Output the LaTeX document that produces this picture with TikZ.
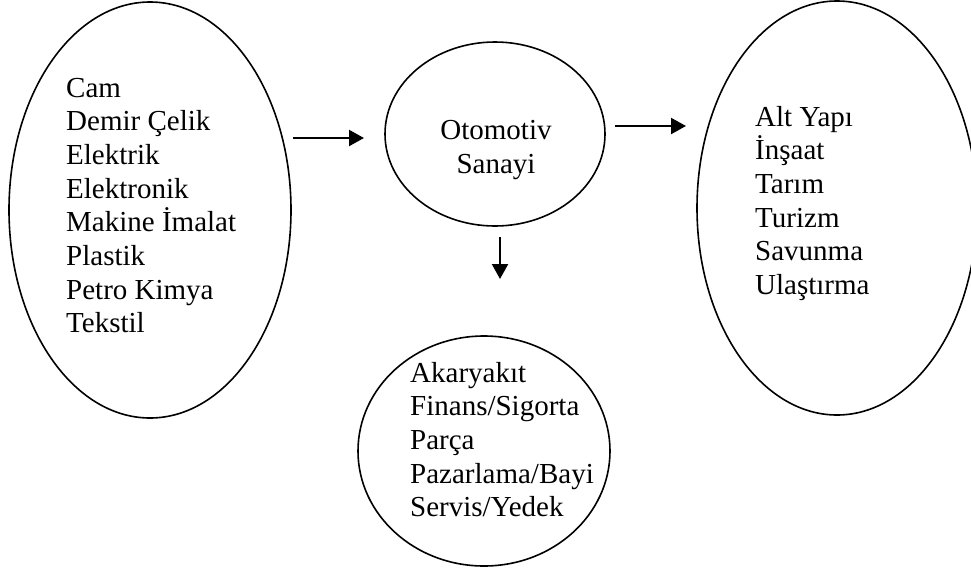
\documentclass[tikz,border=0pt]{standalone}
\usepackage{fontspec}
\setmainfont{Liberation Serif}
\usetikzlibrary{shapes.geometric,arrows.meta}

\begin{document}
\begin{tikzpicture}[x=1pt,y=-1pt,
    halka/.style={draw,ellipse,line width=1.6pt,inner sep=0pt},
    satir/.style={anchor=base west,inner sep=0pt,font=\fontsize{29}{34}\selectfont},
    orta/.style={satir,anchor=base},
    ok/.style={line width=2.2pt,-{Triangle[length=15pt,width=16pt]}}]
\useasboundingbox (0,0) rectangle (971,571);

\node[halka,minimum width=282pt,minimum height=416pt] (girdi) at (150,210) {};
\node[halka,minimum width=220pt,minimum height=184pt] (otomotiv) at (495,134) {};
\node[halka,minimum width=280pt,minimum height=414pt] (cikti) at (837,208) {};
\node[halka,minimum width=252pt,minimum height=230pt] (yan) at (484,451) {};

\foreach \t [count=\i from 0] in {Cam,Demir Çelik,Elektrik,Elektronik,%
            Makine İmalat,Plastik,Petro Kimya,Tekstil}
    \node[satir] (girdi-\i) at (66,97+33.7*\i) {\t};

\node[orta] (oto-1) at (496,139) {Otomotiv};
\node[orta] (oto-2) at (496,173) {Sanayi};

\foreach \t [count=\i from 0] in {Alt Yapı,İnşaat,Tarım,Turizm,Savunma,Ulaştırma}
    \node[satir] (cikti-\i) at (755,126+33.7*\i) {\t};

\foreach \t [count=\i from 0] in {Akaryakıt,{Finans/Sigorta},Parça,%
            {Pazarlama/Bayi},{Servis/Yedek}}
    \node[satir] (yan-\i) at (410,382+33.7*\i) {\t};

\coordinate (sol-a) at (293,138);
\coordinate (sol-b) at (364,138);
\coordinate (sag-a) at (615,126);
\coordinate (sag-b) at (686,126);
\coordinate (alt-a) at (500,237);
\coordinate (alt-b) at (500,279);

\foreach \i/\j in {sol-a/sol-b, sag-a/sag-b, alt-a/alt-b}
    \draw[ok] (\i) -- (\j);

\end{tikzpicture}
\end{document}
